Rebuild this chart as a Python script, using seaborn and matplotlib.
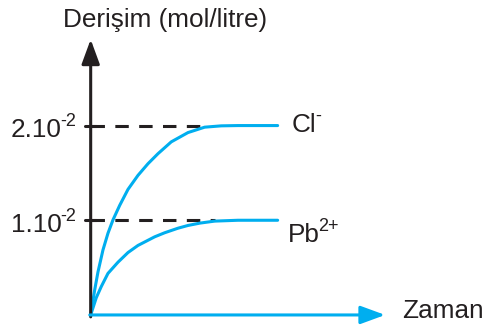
import pandas as pd
import seaborn as sns
import matplotlib.pyplot as plt

# values (x: time, arbitrary units; y: concentration in 1e-2 mol/L)
cl_time = [0, 0.214, 0.390, 0.658, 0.925, 1.193, 1.551, 1.995, 2.529, 3.064, 3.599,
           4.310, 5.203, 6.096, 6.984, 7.877, 10]
cl_conc = [0, 0.264, 0.454, 0.687, 0.863, 1.004, 1.157, 1.326, 1.474, 1.597, 1.703,
           1.828, 1.926, 1.983, 1.997, 2.0, 2.0]
pb_time = [0, 0.299, 0.567, 0.925, 1.460, 1.995, 2.529, 3.422, 3.957, 4.668, 5.203,
           5.845, 6.631, 7.877, 10]
pb_conc = [0, 0.182, 0.300, 0.439, 0.557, 0.659, 0.734, 0.825, 0.868, 0.916, 0.945,
           0.970, 0.991, 1.0, 1.0]
levels = [2, 1]
level_text = ['2.10', '1.10']
level_exp = ['-2', '-2']
dash_end = [6.1, 6.65]
ion_text = ['Cl', 'Pb']
ion_charge = ['-', '2+']

blue = '#00AEEF'
black = '#231F20'

sns.set_style('white')
plt.rcParams['font.family'] = ['Liberation Sans', 'DejaVu Sans']

df = pd.concat([
    pd.DataFrame({'t': cl_time, 'c': cl_conc, 'ion': 'Cl'}),
    pd.DataFrame({'t': pb_time, 'c': pb_conc, 'ion': 'Pb'}),
])

fig = plt.figure(figsize=(4.85, 3.32), dpi=100)
ax = fig.add_axes([0, 0, 1, 1])
ax.set_xlim(-4.85, 21.09)
ax.set_ylim(-0.18, 3.326)
ax.axis('off')

# dashed guide lines and small ticks on the y axis
for lev, end in zip(levels, dash_end):
    ax.plot([0, end], [lev, lev], color=black, lw=2.2, dashes=(4.4, 3.4), zorder=2)
    ax.plot([-0.32, 0.3], [lev, lev], color=black, lw=2.2, zorder=2)

sns.lineplot(data=df, x='t', y='c', units='ion', estimator=None, color=blue,
             lw=2.2, ax=ax, zorder=3, sort=False)

# axis arrows
ax.annotate('', xy=(0, 2.91), xytext=(0, -0.02),
            arrowprops=dict(arrowstyle='-|>,head_length=15,head_width=5.5',
                            mutation_scale=1, color=black, lw=2.2, shrinkA=0, shrinkB=0))
ax.annotate('', xy=(15.75, 0), xytext=(-0.05, 0),
            arrowprops=dict(arrowstyle='-|>,head_length=15,head_width=5.5',
                            mutation_scale=1, color=blue, lw=2.2, shrinkA=0, shrinkB=0),
            zorder=4)

fs = 18.8
sfs = 13


def label(x, y, main, sup, ha='left'):
    t = ax.text(x, y, main, ha=ha, va='baseline', fontsize=fs, color=black)
    ax.annotate(sup, xy=(1, 1), xycoords=t, xytext=(-1.0, 3.5),
                textcoords='offset points', ha='left', va='top',
                fontsize=sfs, color=black)


label(-1.55, 1.88, level_text[0], level_exp[0], ha='right')
label(-1.55, 0.876, level_text[1], level_exp[1], ha='right')
label(10.76, 1.932, ion_text[0], ion_charge[0])
label(10.55, 0.771, ion_text[1], ion_charge[1])

ax.text(4.0, 3.04, 'Derişim (mol/litre)', ha='center', va='baseline', fontsize=fs, color=black)
ax.text(16.65, -0.032, 'Zaman', ha='left', va='baseline', fontsize=fs, color=black)

fig.savefig('out.png', dpi=100)
